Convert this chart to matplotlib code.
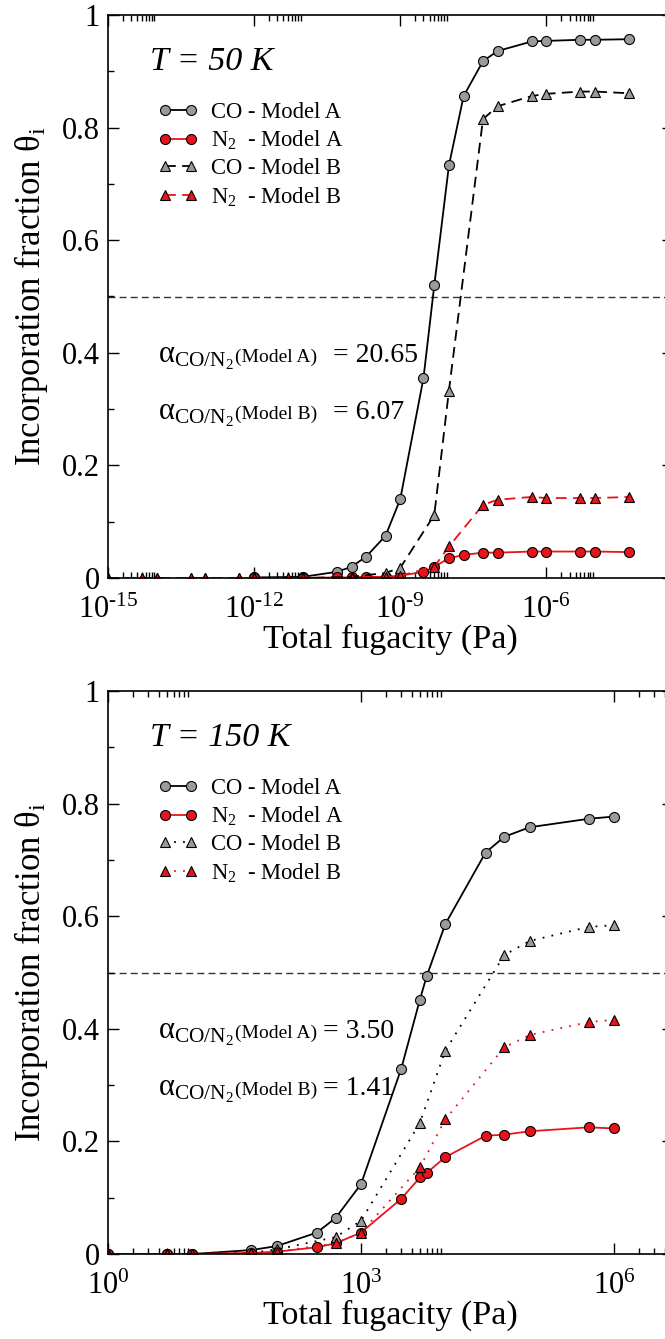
import matplotlib
matplotlib.use('Agg')
import matplotlib.pyplot as plt
from matplotlib.ticker import FixedLocator, MultipleLocator, FuncFormatter
from matplotlib.offsetbox import TextArea, HPacker, AnchoredOffsetbox
import numpy as np

plt.rcParams['font.family'] = ['Liberation Serif', 'DejaVu Serif']
plt.rcParams['mathtext.fontset'] = 'custom'
plt.rcParams['mathtext.rm'] = 'Liberation Serif'
plt.rcParams['mathtext.it'] = 'Liberation Serif:italic'
plt.rcParams['mathtext.bf'] = 'Liberation Serif:bold'

# ---- T = 50 K ----
p50_a = [1e-12, 1e-11, 5e-11, 1e-10, 2e-10, 5e-10, 1e-9, 3e-9, 5e-9, 1e-8,
         2e-8, 5e-8, 1e-7, 5e-7, 1e-6, 5e-6, 1e-5, 5e-5]
co50_a = [0.001, 0.002, 0.011, 0.020, 0.038, 0.075, 0.140, 0.355, 0.520, 0.733,
          0.856, 0.918, 0.936, 0.953, 0.954, 0.956, 0.956, 0.957]
n2_50_a = [0.0, 0.0, 0.001, 0.001, 0.002, 0.002, 0.004, 0.011, 0.020, 0.035,
           0.041, 0.045, 0.045, 0.047, 0.047, 0.047, 0.047, 0.046]
p50_b = [1e-15, 5e-15, 1e-14, 5e-14, 1e-13, 5e-13, 1e-12, 5e-12, 1e-11, 1e-10,
         5e-10, 1e-9, 5e-9, 1e-8, 5e-8, 1e-7, 5e-7, 1e-6, 5e-6, 1e-5, 5e-5]
co50_b = [0, 0, 0, 0, 0, 0, 0, 0, 0, 0.002,
          0.009, 0.018, 0.112, 0.333, 0.815, 0.838, 0.856, 0.860, 0.864, 0.864, 0.861]
n2_50_b = [0, 0, 0, 0, 0, 0, 0, 0, 0, 0.0,
           0.001, 0.004, 0.020, 0.056, 0.130, 0.139, 0.144, 0.142, 0.142, 0.142, 0.144]

# ---- T = 150 K ----
p150_a = [1, 5, 10, 50, 100, 300, 500, 1000, 3000, 5000, 6000, 1e4, 3e4, 5e4, 1e5, 5e5, 1e6]
co150_a = [0.0, 0.0, 0.0, 0.007, 0.014, 0.038, 0.064, 0.124, 0.329, 0.452, 0.493,
           0.586, 0.713, 0.741, 0.758, 0.773, 0.777]
n2_150_a = [0.0, 0.0, 0.0, 0.002, 0.004, 0.012, 0.019, 0.038, 0.098, 0.136, 0.144,
            0.172, 0.210, 0.212, 0.218, 0.225, 0.223]
p150_b = [1, 5, 10, 50, 100, 500, 1000, 5000, 1e4, 5e4, 1e5, 5e5, 1e6]
co150_b = [0.0, 0.0, 0.0, 0.002, 0.008, 0.030, 0.059, 0.233, 0.361, 0.531, 0.556, 0.581, 0.584]
n2_150_b = [0.0, 0.0, 0.0, 0.002, 0.004, 0.019, 0.038, 0.154, 0.239, 0.367, 0.389, 0.412, 0.416]

labels = ['CO - Model A', r'N$_2$  - Model A', 'CO - Model B', r'N$_2$  - Model B']
alpha_a = ['20.65', '3.50']
alpha_b = ['6.07', '1.41']
temps = ['50', '150']

GREY = '#9a9a9a'
RED = '#e8141c'


def fmt_pow(v, p):
    e = int(round(np.log10(v)))
    if e < 0:
        return r'$10^{\mathrm{‐%d}}$' % (-e)
    return r'$10^{%d}$' % e


def panel(ax, pa, coa, n2a, pb, cob, n2b, xmin, xmax, dashes_b, temp, aa, ab, eq_sep, gap):
    ax.set_xscale('log')
    ax.plot(pa, coa, '-', color='black', lw=1.3, marker='o', ms=7.2, mfc=GREY, mec='black', mew=0.8, label=labels[0])
    ax.plot(pa, n2a, '-', color=RED, lw=1.3, marker='o', ms=7.2, mfc=RED, mec='black', mew=0.8, label=labels[1])
    ax.plot(pb, cob, color='black', lw=1.3, dashes=dashes_b, marker='^', ms=6.8, mfc=GREY, mec='black', mew=0.8, label=labels[2])
    ax.plot(pb, n2b, color=RED, lw=1.3, dashes=dashes_b, marker='^', ms=6.8, mfc=RED, mec='black', mew=0.8, label=labels[3])
    ax.axhline(0.5, color='#333333', lw=1.0, dashes=(5, 3), zorder=0.5)

    ax.set_xlim(xmin, xmax)
    ax.set_ylim(0, 1)
    lo = int(np.ceil(np.log10(xmin)))
    hi = int(np.floor(np.log10(xmax)))
    majors = [10.0 ** e for e in range(lo, hi + 1, 3)]
    minors = [m * v for v in majors for m in range(2, 10)]
    ax.xaxis.set_major_locator(FixedLocator(majors))
    ax.xaxis.set_minor_locator(FixedLocator(minors))
    ax.xaxis.set_major_formatter(FuncFormatter(fmt_pow))
    ax.xaxis.set_minor_formatter(FuncFormatter(lambda v, p: ''))
    ax.yaxis.set_major_locator(MultipleLocator(0.2))
    ax.yaxis.set_minor_locator(MultipleLocator(0.1))
    ax.yaxis.set_major_formatter(FuncFormatter(lambda v, p: '%g' % round(v, 1)))
    ax.tick_params(which='both', direction='in', top=True, right=True, width=1.0)
    ax.tick_params(which='major', length=8, labelsize=22, pad=6)
    ax.tick_params(which='minor', length=4.5)
    ax.tick_params(axis='x', which='major', pad=13)
    for s in ax.spines.values():
        s.set_linewidth(1.2)

    ax.set_xlabel('Total fugacity (Pa)', fontsize=24.5)
    ax.xaxis.set_label_coords(0.5, -0.081)
    ax.set_ylabel(r'Incorporation fraction θ$_{\mathrm{i}}$', fontsize=25)
    ax.yaxis.set_label_coords(-0.102, 0.5)

    ax.text(0.074, 0.902, 'T = %s K' % temp, transform=ax.transAxes, fontsize=24.5,
            fontstyle='italic', va='baseline', ha='left')

    ax.legend(loc='upper left', bbox_to_anchor=(0.088, 0.846), frameon=False,
              fontsize=16.3, numpoints=2, handlelength=1.75, handletextpad=0.6,
              labelspacing=0.27, borderpad=0, borderaxespad=0)

    for i, (name, val) in enumerate([('A', aa), ('B', ab)]):
        big = TextArea(r'$\mathrm{α}_{\mathrm{CO/N_2}}$', textprops=dict(fontsize=22))
        small = TextArea('(Model %s)' % name, textprops=dict(fontsize=14))
        rest = TextArea(eq_sep + '= ' + val, textprops=dict(fontsize=20))
        head = HPacker(children=[big, small], align='baseline', pad=0, sep=1)
        box = HPacker(children=[head, rest], align='baseline', pad=0, sep=gap)
        anc = AnchoredOffsetbox(loc='lower left', child=box, frameon=False, pad=0, borderpad=0,
                                bbox_to_anchor=(0.088, 0.366 - 0.101 * i),
                                bbox_transform=ax.transAxes)
        ax.add_artist(anc)


fig = plt.figure(figsize=(6.65, 13.39), dpi=100)
ax1 = fig.add_axes([108 / 665, (1339 - 578) / 1339, 565 / 665, 563 / 1339])
ax2 = fig.add_axes([108 / 665, (1339 - 1254) / 1339, 565 / 665, 563 / 1339])

panel(ax1, p50_a, co50_a, n2_50_a, p50_b, co50_b, n2_50_b, 1e-15, 10 ** -3.4,
      (6, 3.5), temps[0], alpha_a[0], alpha_b[0], '  ', 1)
panel(ax2, p150_a, co150_a, n2_150_a, p150_b, co150_b, n2_150_b, 1, 10 ** 6.7,
      (1, 4), temps[1], alpha_a[1], alpha_b[1], '', 4)

fig.savefig('out.png', dpi=100)
